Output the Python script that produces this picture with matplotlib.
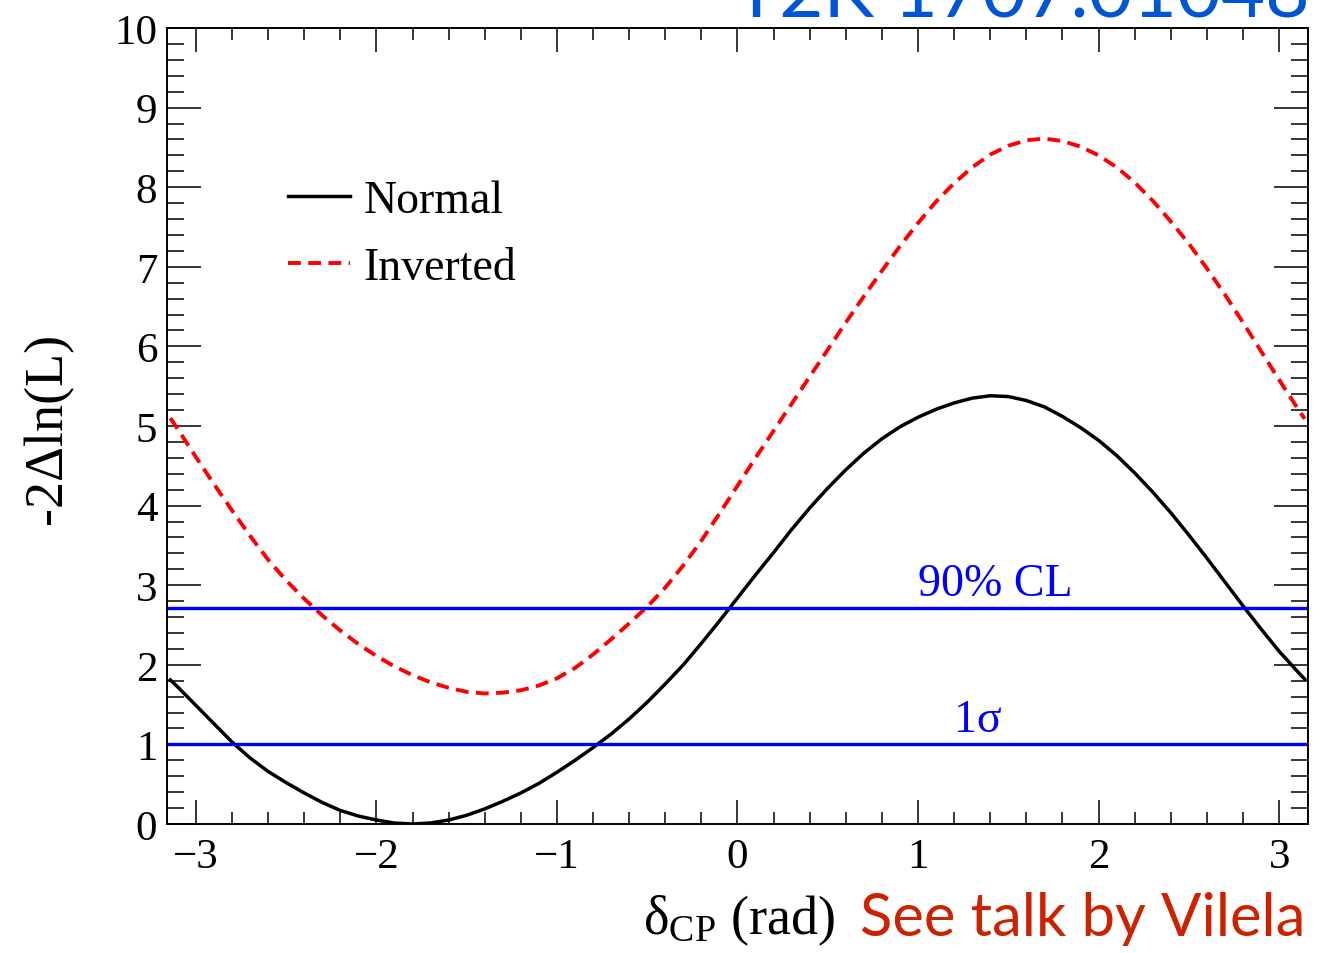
import matplotlib
matplotlib.use("Agg")
import matplotlib.pyplot as plt
from matplotlib.ticker import MultipleLocator

plt.rcParams['font.family'] = ['Liberation Serif', 'DejaVu Serif']
plt.rcParams['mathtext.fontset'] = 'custom'
plt.rcParams['mathtext.rm'] = 'Liberation Serif'
plt.rcParams['mathtext.it'] = 'Liberation Serif:italic'

# delta_CP scan (rad) and -2 delta lnL for each mass ordering
delta_cp = [-3.1416, -3.1, -3.0, -2.9, -2.8, -2.7, -2.6, -2.5, -2.4, -2.3, -2.2,
            -2.1, -2.0, -1.9, -1.8, -1.7, -1.6, -1.5, -1.4, -1.3, -1.2, -1.1,
            -1.0, -0.9, -0.8, -0.7, -0.6, -0.5, -0.4, -0.3, -0.2, -0.1, 0.0,
            0.1, 0.2, 0.3, 0.4, 0.5, 0.6, 0.7, 0.8, 0.9, 1.0, 1.1,
            1.2, 1.3, 1.4, 1.5, 1.6, 1.7, 1.8, 1.9, 2.0, 2.1, 2.2,
            2.3, 2.4, 2.5, 2.6, 2.7, 2.8, 2.9, 3.0, 3.1, 3.1416]
normal = [1.81, 1.72, 1.49, 1.26, 1.03, 0.83, 0.66, 0.52, 0.39, 0.27, 0.17,
          0.10, 0.05, 0.012, 0.0, 0.013, 0.05, 0.11, 0.19, 0.285, 0.39, 0.51,
          0.65, 0.80, 0.96, 1.13, 1.32, 1.53, 1.76, 2.00, 2.27, 2.55, 2.84,
          3.13, 3.41, 3.70, 3.97, 4.22, 4.45, 4.66, 4.84, 4.99, 5.11, 5.21,
          5.29, 5.35, 5.38, 5.37, 5.32, 5.24, 5.12, 4.98, 4.82, 4.63, 4.41,
          4.17, 3.91, 3.63, 3.34, 3.04, 2.74, 2.45, 2.17, 1.92, 1.82]
inverted = [5.10, 4.96, 4.61, 4.27, 3.94, 3.62, 3.32, 3.06, 2.83, 2.62, 2.43,
            2.26, 2.11, 1.98, 1.87, 1.78, 1.71, 1.66, 1.64, 1.65, 1.68, 1.74,
            1.83, 1.96, 2.13, 2.32, 2.52, 2.73, 2.97, 3.25, 3.56, 3.90, 4.25,
            4.60, 4.94, 5.28, 5.62, 5.96, 6.30, 6.63, 6.95, 7.26, 7.55, 7.82,
            8.05, 8.25, 8.41, 8.52, 8.59, 8.61, 8.58, 8.51, 8.40, 8.25, 8.06,
            7.83, 7.57, 7.29, 6.98, 6.65, 6.30, 5.94, 5.58, 5.23, 5.09]

cl90 = 2.71
one_sigma = 1.0

fig = plt.figure(figsize=(13.2, 9.54), dpi=100)
ax = fig.add_axes([167/1320, 129/954, 1141/1320, 796/954])

ax.plot(delta_cp, normal, color='black', lw=2.5, label='Normal')
ax.plot(delta_cp, inverted, color='red', lw=2.8, dashes=(3.3, 1.9), label='Inverted')
ax.axhline(cl90, color='blue', lw=2.4)
ax.axhline(one_sigma, color='blue', lw=2.4)
ax.text(1.0, cl90 + 0.17, '90% CL', color='blue', fontsize=33, ha='left', va='baseline')
ax.text(1.2, one_sigma + 0.17, '1σ', color='blue', fontsize=33, ha='left', va='baseline')

ax.set_xlim(-3.16, 3.16)
ax.set_ylim(0, 10)
ax.xaxis.set_major_locator(MultipleLocator(1))
ax.xaxis.set_minor_locator(MultipleLocator(0.2))
ax.yaxis.set_major_locator(MultipleLocator(1))
ax.yaxis.set_minor_locator(MultipleLocator(0.2))
ax.tick_params(which='both', direction='in', top=True, right=True, width=1.1,
               labelsize=31)
ax.tick_params(axis='x', which='major', length=17, pad=10)
ax.tick_params(axis='x', which='minor', length=8.5)
ax.tick_params(axis='y', which='major', length=24.5, pad=7)
ax.tick_params(axis='y', which='minor', length=12.5)
for s in ax.spines.values():
    s.set_linewidth(1.4)

ax.legend(loc='upper left', bbox_to_anchor=(0.106, 0.81), frameon=False,
          fontsize=33, handlelength=1.35, handletextpad=0.3, labelspacing=0.54,
          borderaxespad=0, borderpad=0)

fig.text(48/1320, 1 - 428/954, '-2Δln(L)', rotation=90, fontsize=39,
         ha='center', va='center')
fig.text(835/1320, 1 - 934/954, r'δ$_{\mathrm{CP}}$ (rad)', fontsize=39,
         ha='right', va='baseline')
fig.text(1305/1320, 1 - 936/954, 'See talk by Vilela', color='#cc2200',
         fontsize=43, family='Lato', ha='right', va='baseline')
fig.text(1310/1320, 1 - 18/954, 'T2K 1707.01048', color='#0055d4',
         fontsize=55, family='Lato', ha='right', va='baseline')

fig.savefig('out.png', dpi=100)
